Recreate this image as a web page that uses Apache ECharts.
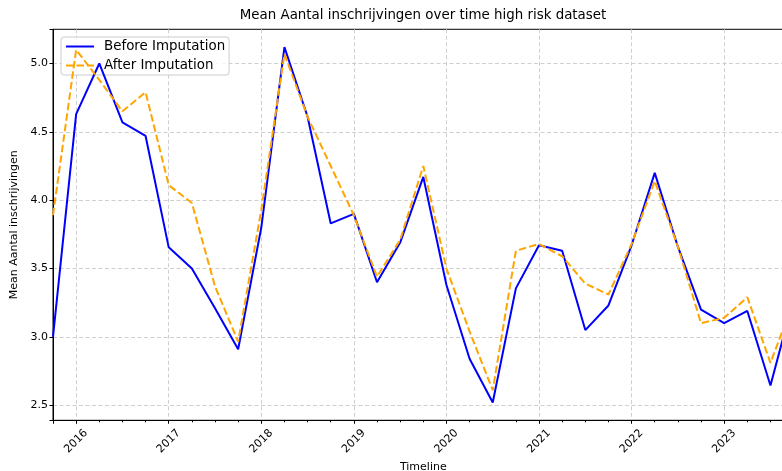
<!DOCTYPE html>
<html>
<head>
<meta charset="utf-8">
<title>Mean Aantal inschrijvingen over time high risk dataset</title>
<script src="https://cdn.jsdelivr.net/npm/echarts@6/dist/echarts.min.js"></script>
<style>
  html, body { margin: 0; padding: 0; background: #fff; overflow: hidden; }
  #chart { width: 800px; height: 471px; }
</style>
</head>
<body>
<div id="chart"></div>
<script>
// Quarterly periods (first month of each quarter)
const periods = [
  '2015-10', '2016-01', '2016-04', '2016-07', '2016-10',
  '2017-01', '2017-04', '2017-07', '2017-10',
  '2018-01', '2018-04', '2018-07', '2018-10',
  '2019-01', '2019-04', '2019-07', '2019-10',
  '2020-01', '2020-04', '2020-07', '2020-10',
  '2021-01', '2021-04', '2021-07', '2021-10',
  '2022-01', '2022-04', '2022-07', '2022-10',
  '2023-01', '2023-04', '2023-07', '2023-10'
];

// Mean "Aantal inschrijvingen" per quarter
const beforeImputation = [
  3.00, 4.63, 5.00, 4.57, 4.47,
  3.655, 3.50, 3.21, 2.91,
  3.80, 5.12, 4.61, 3.83,
  3.90, 3.40, 3.69, 4.17,
  3.38, 2.84, 2.52, 3.355,
  3.67, 3.63, 3.05, 3.23,
  3.67, 4.20, 3.66, 3.20,
  3.10, 3.19, 2.645, 3.28
];

const afterImputation = [
  3.89, 5.10, 4.88, 4.65, 4.79,
  4.11, 3.98, 3.37, 2.965,
  3.93, 5.07, 4.61, 4.25,
  3.89, 3.44, 3.71, 4.25,
  3.50, 3.04, 2.61, 3.63,
  3.68, 3.59, 3.39, 3.31,
  3.68, 4.14, 3.66, 3.10,
  3.14, 3.29, 2.81, 3.26
];

const yearTicks = [2016, 2017, 2018, 2019, 2020, 2021, 2022, 2023];

// 'YYYY-MM' -> fractional year, so the x axis is a plain value axis
function toYear(p) {
  const [y, m] = p.split('-').map(Number);
  return y + (m - 1) / 12;
}

const xs = periods.map(toYear);
const xMin = xs[0];
const xMax = xs[xs.length - 1];

const yMin = 2.39;
const yMax = 5.25;

const FONT = 'DejaVu Sans';

const chart = echarts.init(document.getElementById('chart'), null, { renderer: 'canvas' });

const gridLine = {
  show: true,
  showMinLine: false,
  showMaxLine: false,
  lineStyle: { color: '#cfcfcf', width: 1, type: [4, 2.5] }
};

chart.setOption({
  backgroundColor: '#ffffff',
  animation: false,
  title: {
    text: 'Mean Aantal inschrijvingen over time high risk dataset',
    left: 423,
    top: 9,
    textAlign: 'center',
    padding: 0,
    textStyle: { fontFamily: FONT, fontSize: 13.4, fontWeight: 'normal', color: '#000' }
  },
  legend: {
    orient: 'vertical',
    left: 61,
    top: 37,
    z: 1,
    padding: [3, 4, 3, 4],
    itemGap: 6,
    itemWidth: 28,
    itemHeight: 14,
    backgroundColor: 'rgba(255,255,255,0.8)',
    borderColor: '#cccccc',
    borderWidth: 1,
    borderRadius: 3,
    itemStyle: { opacity: 0 },
    textStyle: { fontFamily: FONT, fontSize: 13.4, color: '#000', padding: [0, 0, 0, 5] },
    data: ['Before Imputation', 'After Imputation']
  },
  grid: {
    left: 53,
    top: 29.3,
    width: 740.6,
    height: 391,
    show: true,
    borderColor: '#000',
    borderWidth: 1,
    backgroundColor: 'transparent',
    containLabel: false,
    outerBoundsMode: 'none'
  },
  xAxis: [
    {
      type: 'value',
      min: xMin,
      max: xMax,
      splitNumber: 8,
      axisLine: { show: true, lineStyle: { color: '#000', width: 1 } },
      axisTick: { show: true, inside: false, length: 3.5, lineStyle: { color: '#000', width: 1 } },
      axisLabel: {
        show: true,
        rotate: 45,
        align: 'center',
        verticalAlign: 'middle',
        margin: 21,
        fontFamily: FONT,
        fontSize: 11,
        color: '#000',
        formatter: function (v) {
          const r = Math.round(v);
          return (Math.abs(v - r) < 1e-6 && yearTicks.indexOf(r) >= 0) ? String(r) : '';
        }
      },
      splitLine: gridLine,
      name: 'Timeline',
      nameLocation: 'middle',
      nameGap: 40,
      nameTextStyle: { fontFamily: FONT, fontSize: 11, color: '#000' }
    },
    {
      // quarterly minor ticks
      type: 'value',
      min: xMin,
      max: xMax,
      interval: 0.25,
      position: 'bottom',
      axisLine: { show: false },
      axisTick: { show: true, length: 2, lineStyle: { color: '#000', width: 1 } },
      axisLabel: { show: false },
      splitLine: { show: false }
    }
  ],
  yAxis: {
    type: 'value',
    min: yMin,
    max: yMax,
    splitNumber: 5,
    axisLine: { show: true, lineStyle: { color: '#000', width: 1 } },
    axisTick: { show: true, length: 3.5, lineStyle: { color: '#000', width: 1 } },
    axisLabel: {
      fontFamily: FONT,
      fontSize: 11,
      color: '#000',
      margin: 5,
      formatter: function (v) {
        const r = Math.round(v * 2) / 2;
        return Math.abs(v - r) < 1e-6 ? v.toFixed(1) : '';
      }
    },
    splitLine: gridLine,
    name: 'Mean Aantal inschrijvingen',
    nameLocation: 'middle',
    nameGap: 26,
    nameTextStyle: { fontFamily: FONT, fontSize: 11, color: '#000' }
  },
  series: [
    {
      name: 'Before Imputation',
      type: 'line',
      xAxisIndex: 0,
      z: 3,
      symbol: 'none',
      clip: true,
      data: xs.map((x, i) => [x, beforeImputation[i]]),
      lineStyle: { color: '#0000ff', width: 2 },
      itemStyle: { color: '#0000ff' }
    },
    {
      name: 'After Imputation',
      type: 'line',
      xAxisIndex: 0,
      z: 4,
      symbol: 'none',
      clip: true,
      data: xs.map((x, i) => [x, afterImputation[i]]),
      lineStyle: { color: '#ffa500', width: 2, type: [7.4, 3.2] },
      itemStyle: { color: '#ffa500' }
    }
  ]
});
</script>
</body>
</html>
